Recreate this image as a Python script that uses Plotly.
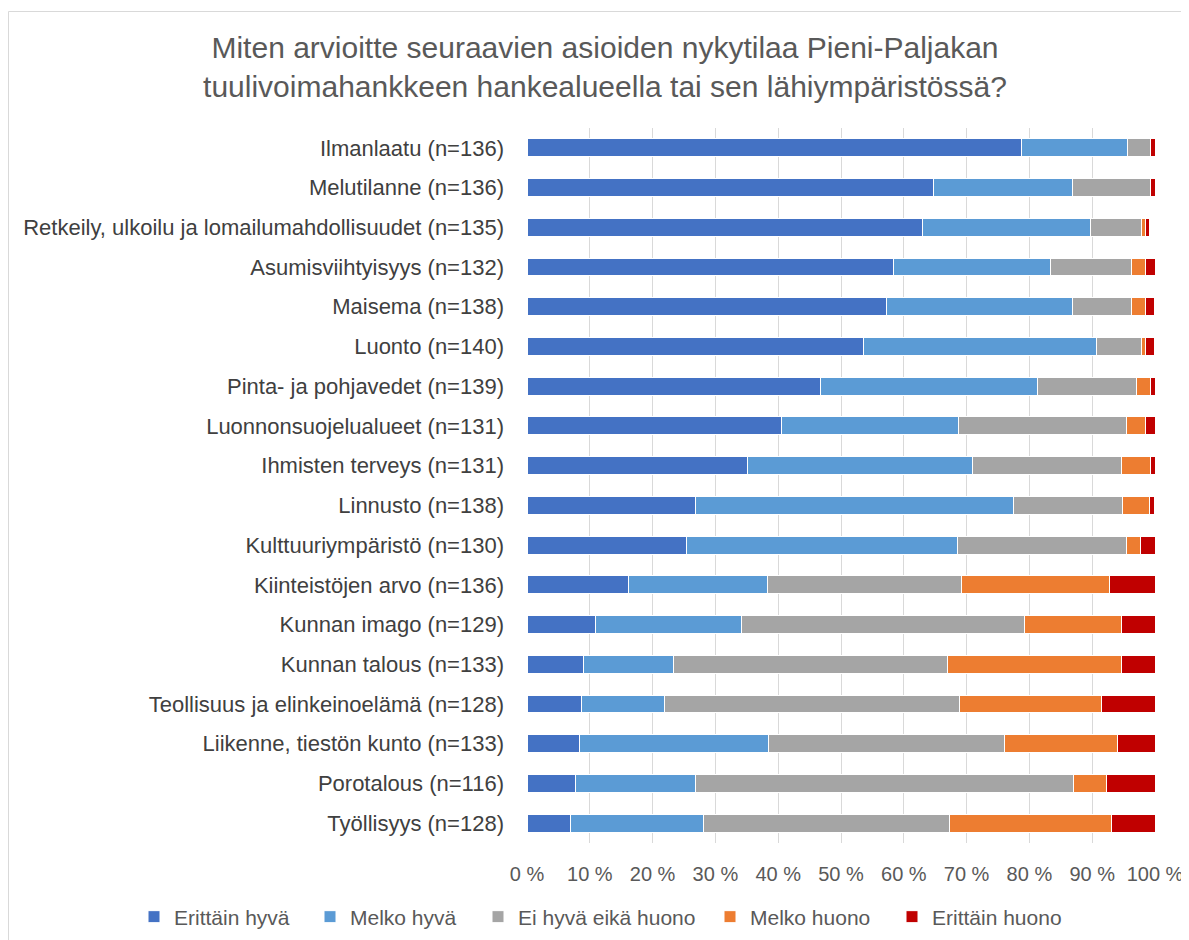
import plotly.graph_objects as go

categories = [
    "Ilmanlaatu (n=136)",
    "Melutilanne (n=136)",
    "Retkeily, ulkoilu ja lomailumahdollisuudet (n=135)",
    "Asumisviihtyisyys (n=132)",
    "Maisema (n=138)",
    "Luonto (n=140)",
    "Pinta- ja pohjavedet (n=139)",
    "Luonnonsuojelualueet (n=131)",
    "Ihmisten terveys (n=131)",
    "Linnusto (n=138)",
    "Kulttuuriympäristö (n=130)",
    "Kiinteistöjen arvo (n=136)",
    "Kunnan imago (n=129)",
    "Kunnan talous (n=133)",
    "Teollisuus ja elinkeinoelämä (n=128)",
    "Liikenne, tiestön kunto (n=133)",
    "Porotalous (n=116)",
    "Työllisyys (n=128)",
]

erittain_hyva = [78.7, 64.7, 63.0, 58.3, 57.2, 53.6, 46.8, 40.5, 35.1, 26.8, 25.4, 16.2, 10.9, 9.0, 8.6, 8.3, 7.8, 7.0]
melko_hyva = [16.9, 22.1, 26.7, 25.0, 29.7, 37.1, 34.5, 28.2, 35.9, 50.7, 43.1, 22.1, 23.3, 14.3, 13.3, 30.1, 19.0, 21.1]
ei_hyva_eika_huono = [3.7, 12.5, 8.1, 12.9, 9.4, 7.1, 15.8, 26.7, 23.7, 17.4, 26.9, 30.9, 45.0, 43.6, 46.9, 37.6, 60.3, 39.1]
melko_huono = [0.0, 0.0, 0.7, 2.3, 2.2, 0.7, 2.2, 3.1, 4.6, 4.3, 2.3, 23.5, 15.5, 27.8, 22.7, 18.0, 5.2, 25.8]
erittain_huono = [0.7, 0.7, 0.7, 1.5, 1.4, 1.4, 0.7, 1.5, 0.8, 0.7, 2.3, 7.4, 5.4, 5.3, 8.6, 6.0, 7.8, 7.0]

series_names = ["Erittäin hyvä", "Melko hyvä", "Ei hyvä eikä huono", "Melko huono", "Erittäin huono"]
series_values = [erittain_hyva, melko_hyva, ei_hyva_eika_huono, melko_huono, erittain_huono]
colors = ["#4472C4", "#5B9BD5", "#A5A5A5", "#ED7D31", "#C00000"]

FONT = "Liberation Sans"

# page has an 8px body margin; figure is sized/positioned to compensate
OFF = 8
W, H = 1189 - OFF, 940 - OFF
L, R, T, B = 527 - OFF, 34, 128 - OFF, 97
pw, ph = W - L - R, H - T - B


def px_x(x):
    return (x - OFF - L) / pw


def px_y(y):
    return (H - B - (y - OFF)) / ph


# legend text start positions in the reference (px)
legend_text_x = [171, 347, 515, 747, 929]
legend_ids = ["legend2", "legend3", "legend4", "legend5", "legend6"]

fig = go.Figure()
for name, vals, col, lid in zip(series_names, series_values, colors, legend_ids):
    fig.add_trace(go.Bar(
        y=categories, x=vals, name=name, orientation="h",
        marker=dict(color=col, line=dict(color="white", width=1)),
        hoverinfo="x+y+name",
        legend=lid,
        showlegend=True,
    ))

legend_layout = {}
for lid, tx in zip(legend_ids, legend_text_x):
    legend_layout[lid] = dict(
        orientation="h",
        x=px_x(tx - 37), xanchor="left",
        y=px_y(917), yanchor="middle",
        font=dict(family=FONT, size=21, color="#595959"),
        bgcolor="rgba(0,0,0,0)",
        itemwidth=30,
        visible=True,
    )

fig.update_layout(
    width=W, height=H,
    barmode="stack",
    bargap=0.55,
    showlegend=True,
    margin=dict(l=L, r=R, t=T, b=B, autoexpand=False),
    paper_bgcolor="white",
    plot_bgcolor="white",
    font=dict(family=FONT, color="#404040", size=20),
    title=dict(
        text="Miten arvioitte seuraavien asioiden nykytilaa Pieni-Paljakan<br>tuulivoimahankkeen hankealueella tai sen lähiympäristössä?",
        x=(605 - OFF) / W, xanchor="center", y=1 - (58 - OFF) / H, yanchor="middle",
        font=dict(family=FONT, size=30, color="#595959"),
    ),
    xaxis=dict(
        range=[0, 100], dtick=10, ticksuffix=" %",
        showgrid=True, gridcolor="#D9D9D9", gridwidth=1,
        zeroline=False, showline=False,
        tickfont=dict(family=FONT, size=20, color="#595959"),
        ticklabelstandoff=17,
        fixedrange=True,
    ),
    yaxis=dict(
        autorange="reversed",
        showgrid=False, zeroline=False, showline=False,
        tickfont=dict(family=FONT, size=22, color="#404040"),
        ticklabelstandoff=22,
        fixedrange=True,
    ),
    shapes=[dict(
        type="rect", xref="paper", yref="paper",
        x0=px_x(8.5), x1=px_x(1230), y0=px_y(990), y1=px_y(11.5),
        line=dict(color="#D9D9D9", width=1), fillcolor="rgba(0,0,0,0)", layer="below",
    )],
    **legend_layout,
)

fig.write_html("out.html")
